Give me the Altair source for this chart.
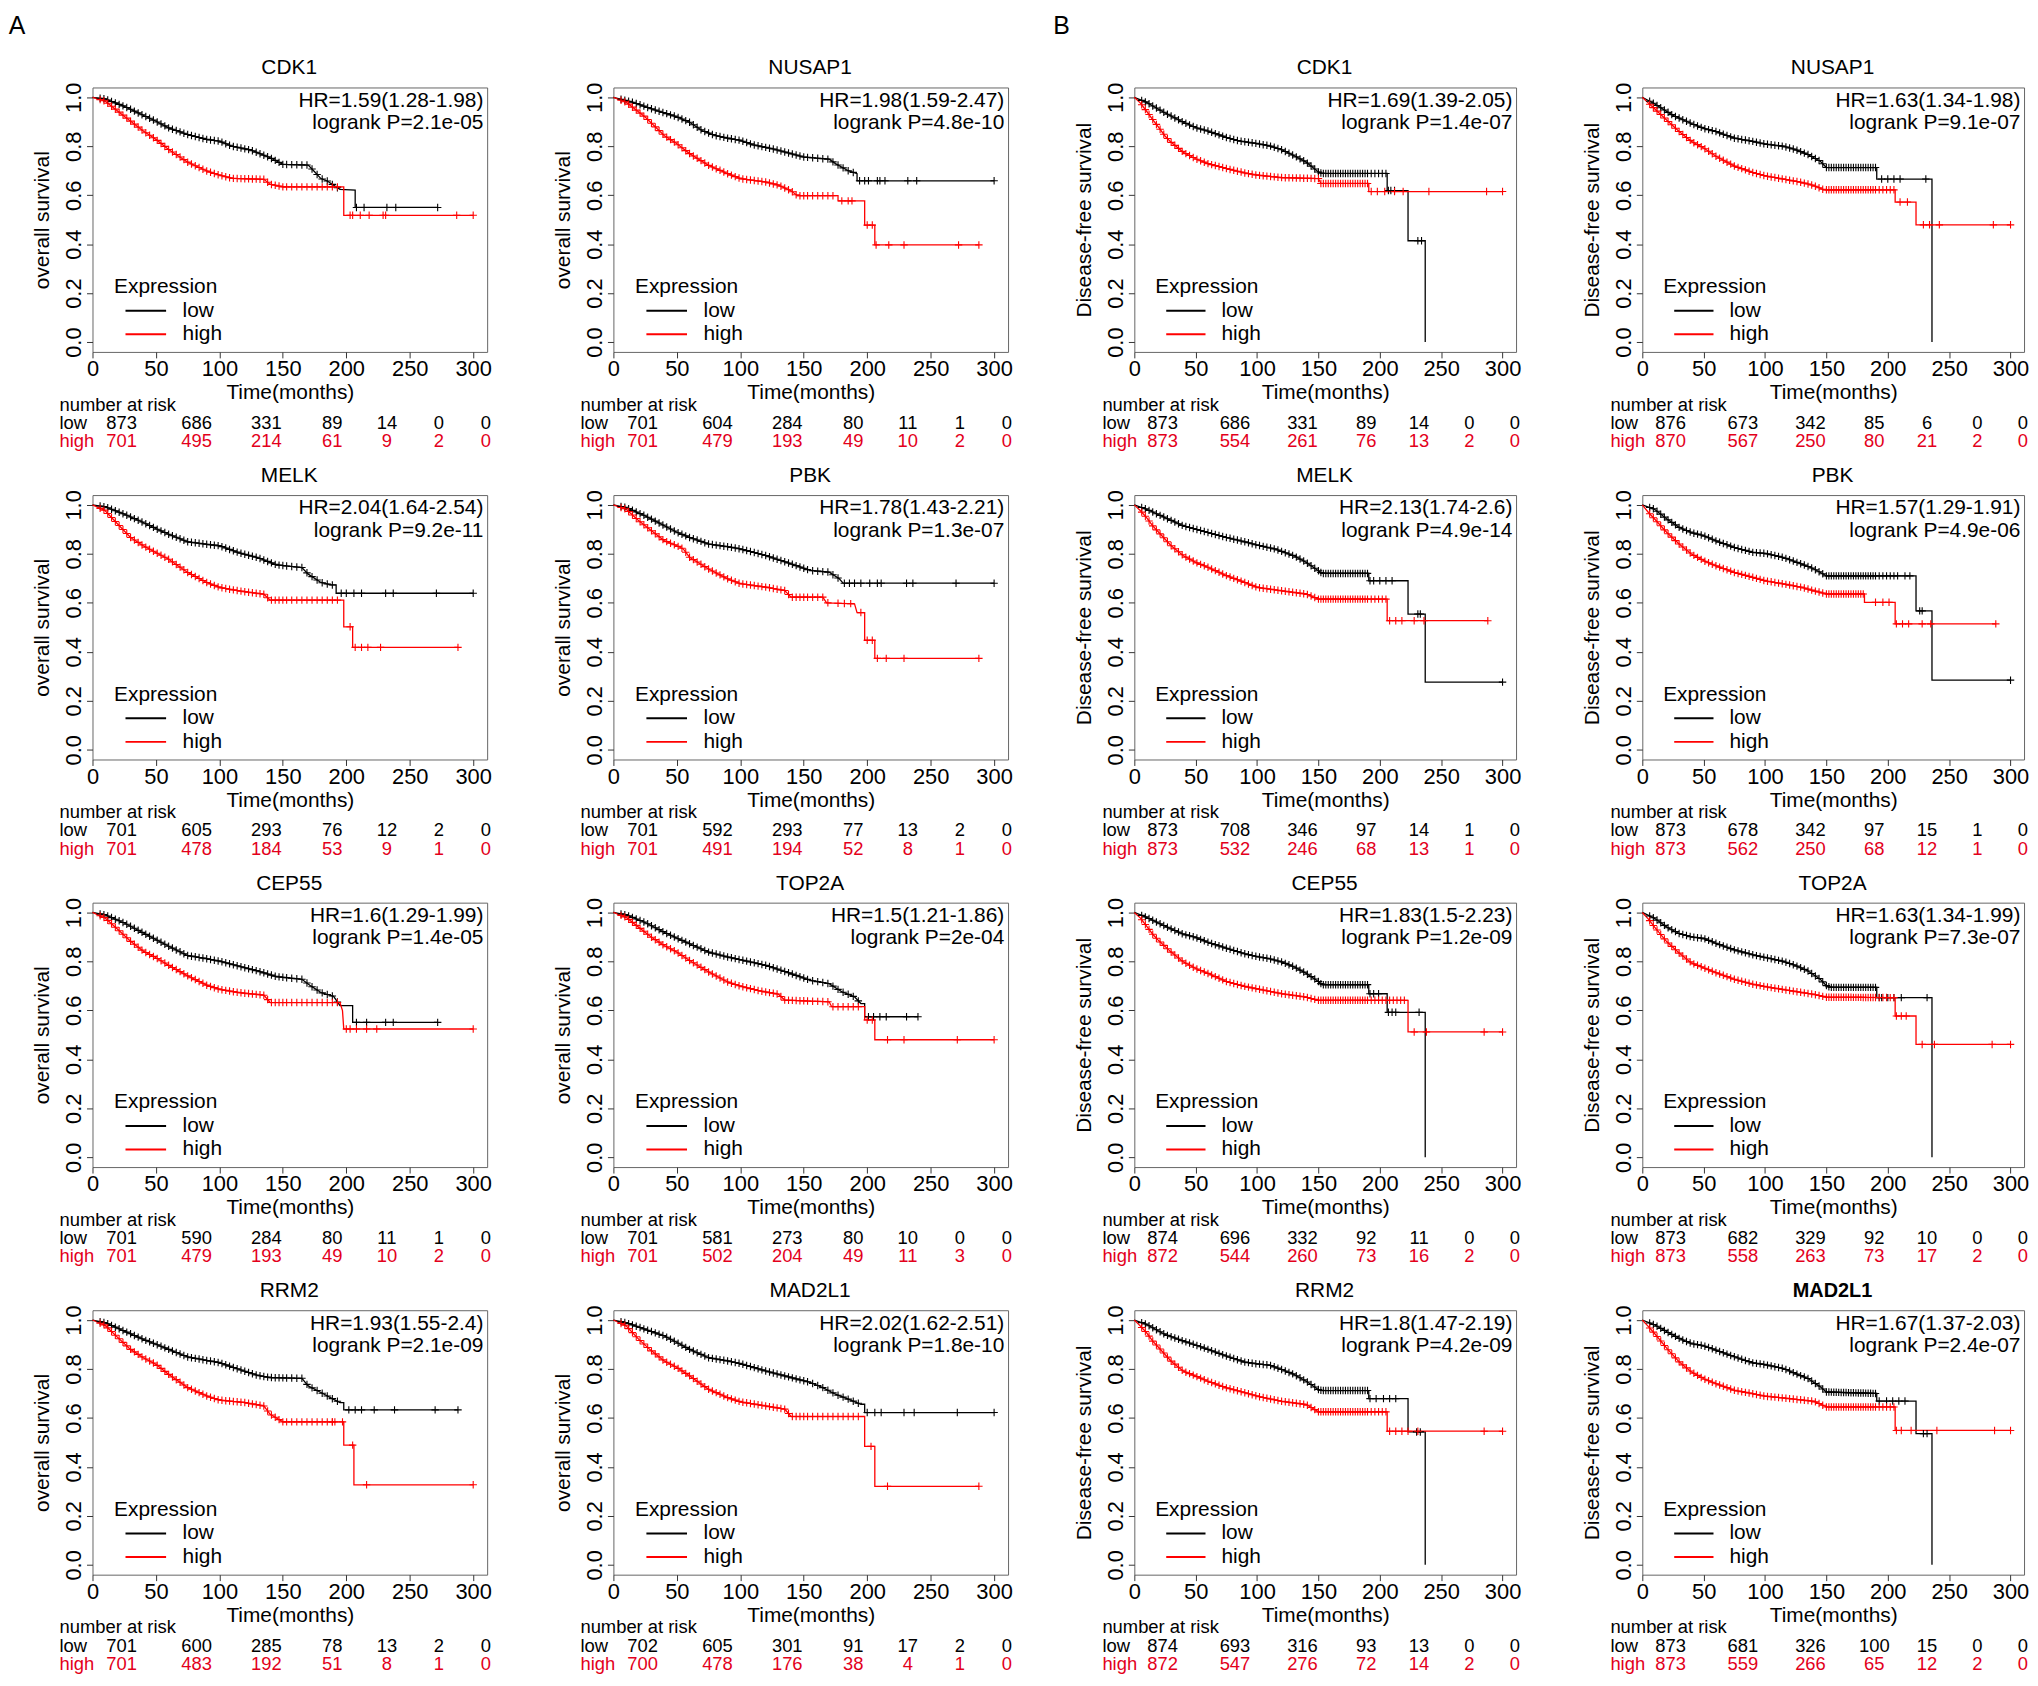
import altair as alt
import pandas as pd

# ------------------------------------------------------------------ data
GENES = ["CDK1", "NUSAP1", "MELK", "PBK", "CEP55", "TOP2A", "RRM2", "MAD2L1"]
RISK_TIMES = [0, 50, 100, 150, 200, 250, 300]

# ---- A: overall survival
OS_HR = {
    "CDK1": "HR=1.59(1.28-1.98)", "NUSAP1": "HR=1.98(1.59-2.47)",
    "MELK": "HR=2.04(1.64-2.54)", "PBK": "HR=1.78(1.43-2.21)",
    "CEP55": "HR=1.6(1.29-1.99)", "TOP2A": "HR=1.5(1.21-1.86)",
    "RRM2": "HR=1.93(1.55-2.4)", "MAD2L1": "HR=2.02(1.62-2.51)",
}
OS_P = {
    "CDK1": "logrank P=2.1e-05", "NUSAP1": "logrank P=4.8e-10",
    "MELK": "logrank P=9.2e-11", "PBK": "logrank P=1.3e-07",
    "CEP55": "logrank P=1.4e-05", "TOP2A": "logrank P=2e-04",
    "RRM2": "logrank P=2.1e-09", "MAD2L1": "logrank P=1.8e-10",
}
OS_RISK_LOW = {
    "CDK1": [873, 686, 331, 89, 14, 0, 0], "NUSAP1": [701, 604, 284, 80, 11, 1, 0],
    "MELK": [701, 605, 293, 76, 12, 2, 0], "PBK": [701, 592, 293, 77, 13, 2, 0],
    "CEP55": [701, 590, 284, 80, 11, 1, 0], "TOP2A": [701, 581, 273, 80, 10, 0, 0],
    "RRM2": [701, 600, 285, 78, 13, 2, 0], "MAD2L1": [702, 605, 301, 91, 17, 2, 0],
}
OS_RISK_HIGH = {
    "CDK1": [701, 495, 214, 61, 9, 2, 0], "NUSAP1": [701, 479, 193, 49, 10, 2, 0],
    "MELK": [701, 478, 184, 53, 9, 1, 0], "PBK": [701, 491, 194, 52, 8, 1, 0],
    "CEP55": [701, 479, 193, 49, 10, 2, 0], "TOP2A": [701, 502, 204, 49, 11, 3, 0],
    "RRM2": [701, 483, 192, 51, 8, 1, 0], "MAD2L1": [700, 478, 176, 38, 4, 1, 0],
}
OS_LOW = {
    "CDK1": [(0, 1), (10, 0.993), (25, 0.963), (50, 0.902), (60, 0.875), (75, 0.848), (90, 0.828),
             (100, 0.821), (110, 0.80), (125, 0.784), (140, 0.753), (150, 0.726), (170, 0.723),
             (175, 0.696), (180, 0.668), (185, 0.658), (195, 0.624), (207, 0.621), (207, 0.55), (272, 0.55)],
    "NUSAP1": [(0, 1), (15, 0.98), (30, 0.953), (50, 0.92), (60, 0.898), (70, 0.864), (80, 0.844),
               (90, 0.833), (100, 0.824), (110, 0.806), (125, 0.79), (140, 0.77), (150, 0.756),
               (170, 0.747), (175, 0.729), (185, 0.70), (192, 0.688), (192, 0.659), (300, 0.659)],
    "MELK": [(0, 1), (10, 0.992), (25, 0.962), (40, 0.928), (50, 0.903), (60, 0.88), (75, 0.849),
             (90, 0.839), (100, 0.833), (115, 0.805), (130, 0.785), (145, 0.755), (165, 0.744),
             (170, 0.717), (180, 0.683), (188, 0.673), (192, 0.673), (192, 0.639), (300, 0.639)],
    "PBK": [(0, 1), (10, 0.989), (25, 0.955), (40, 0.915), (50, 0.888), (60, 0.867), (75, 0.84),
            (90, 0.829), (100, 0.82), (120, 0.793), (140, 0.759), (155, 0.732), (170, 0.725),
            (178, 0.698), (181, 0.68), (300, 0.68)],
    "CEP55": [(0, 1), (10, 0.99), (25, 0.957), (40, 0.916), (50, 0.889), (60, 0.862), (75, 0.824),
              (90, 0.811), (100, 0.801), (115, 0.781), (130, 0.761), (145, 0.738), (165, 0.727),
              (172, 0.70), (180, 0.673), (190, 0.657), (195, 0.619), (205, 0.619), (205, 0.551), (272, 0.551)],
    "TOP2A": [(0, 1), (10, 0.99), (25, 0.959), (40, 0.919), (50, 0.895), (60, 0.872), (75, 0.838),
              (90, 0.818), (100, 0.807), (120, 0.784), (140, 0.75), (155, 0.723), (170, 0.709),
              (180, 0.676), (190, 0.655), (195, 0.628), (198, 0.628), (198, 0.574), (240, 0.574)],
    "RRM2": [(0, 1), (10, 0.989), (25, 0.955), (40, 0.921), (50, 0.901), (60, 0.88), (75, 0.849),
             (90, 0.835), (100, 0.826), (115, 0.799), (130, 0.774), (140, 0.765), (165, 0.762),
             (170, 0.731), (180, 0.704), (190, 0.676), (195, 0.663), (198, 0.663), (198, 0.633), (288, 0.633)],
    "MAD2L1": [(0, 1), (10, 0.989), (25, 0.962), (40, 0.935), (50, 0.908), (60, 0.88), (75, 0.846),
               (90, 0.833), (100, 0.822), (120, 0.792), (140, 0.765), (155, 0.745), (165, 0.724),
               (175, 0.697), (185, 0.677), (195, 0.656), (198, 0.656), (198, 0.622), (300, 0.622)],
}
OS_HIGH = {
    "CDK1": [(0, 1), (10, 0.984), (25, 0.923), (40, 0.862), (50, 0.828), (60, 0.787), (75, 0.735),
             (90, 0.699), (100, 0.682), (110, 0.669), (135, 0.665), (140, 0.645), (150, 0.634),
             (198, 0.634), (198, 0.518), (300, 0.518)],
    "NUSAP1": [(0, 1), (10, 0.98), (25, 0.919), (40, 0.844), (50, 0.81), (60, 0.77), (75, 0.722),
               (90, 0.688), (100, 0.668), (120, 0.654), (130, 0.641), (140, 0.618), (145, 0.598),
               (177, 0.598), (177, 0.577), (198, 0.577), (198, 0.478), (206, 0.478), (206, 0.397), (288, 0.397)],
    "MELK": [(0, 1), (10, 0.976), (20, 0.921), (30, 0.867), (40, 0.833), (50, 0.805), (60, 0.778),
             (75, 0.724), (90, 0.683), (100, 0.663), (115, 0.649), (135, 0.635), (140, 0.611),
             (198, 0.611), (198, 0.502), (205, 0.502), (205, 0.418), (288, 0.418)],
    "PBK": [(0, 1), (10, 0.982), (20, 0.935), (30, 0.894), (40, 0.854), (50, 0.833), (55, 0.82),
            (60, 0.786), (75, 0.738), (90, 0.698), (100, 0.678), (120, 0.664), (135, 0.65), (140, 0.623),
            (165, 0.623), (168, 0.60), (190, 0.596), (192, 0.56), (198, 0.56), (198, 0.447), (206, 0.447),
            (206, 0.373), (288, 0.373)],
    "CEP55": [(0, 1), (10, 0.977), (20, 0.93), (30, 0.882), (40, 0.842), (50, 0.815), (60, 0.784),
              (75, 0.741), (90, 0.703), (100, 0.686), (115, 0.673), (135, 0.662), (140, 0.632),
              (195, 0.632), (197, 0.599), (198, 0.524), (300, 0.524)],
    "TOP2A": [(0, 1), (10, 0.98), (20, 0.939), (30, 0.899), (40, 0.865), (50, 0.838), (60, 0.804),
              (75, 0.757), (90, 0.716), (100, 0.699), (115, 0.68), (130, 0.666), (135, 0.642),
              (170, 0.635), (172, 0.615), (198, 0.615), (198, 0.561), (206, 0.561), (206, 0.48), (300, 0.48)],
    "RRM2": [(0, 1), (10, 0.978), (20, 0.928), (30, 0.88), (40, 0.846), (50, 0.819), (60, 0.778),
             (75, 0.724), (90, 0.69), (100, 0.673), (120, 0.663), (135, 0.649), (140, 0.615), (150, 0.584),
             (198, 0.584), (198, 0.489), (206, 0.489), (206, 0.327), (300, 0.327)],
    "MAD2L1": [(0, 1), (10, 0.976), (20, 0.921), (30, 0.874), (40, 0.833), (50, 0.806), (60, 0.772),
               (75, 0.717), (90, 0.683), (100, 0.666), (120, 0.649), (135, 0.636), (140, 0.606),
               (198, 0.606), (198, 0.484), (206, 0.484), (206, 0.321), (288, 0.321)],
}
OS_CENS_LOW = {
    "CDK1": [208, 214, 232, 239, 272], "NUSAP1": [194, 198, 201, 208, 210, 214, 232, 239, 300],
    "MELK": [196, 200, 206, 212, 231, 237, 271, 300], "PBK": [182, 186, 190, 195, 202, 208, 211, 231, 236, 270, 300],
    "CEP55": [208, 216, 231, 237, 272], "TOP2A": [201, 205, 210, 215, 231, 240],
    "RRM2": [202, 207, 212, 222, 238, 270, 288], "MAD2L1": [200, 206, 211, 229, 237, 271, 300],
}
OS_CENS_HIGH = {
    "CDK1": [203, 205, 211, 218, 229, 231, 287, 300], "NUSAP1": [180, 185, 188, 200, 204, 207, 217, 229, 272, 288],
    "MELK": [203, 207, 212, 217, 227, 288], "PBK": [177, 182, 187, 195, 200, 204, 208, 215, 229, 288],
    "CEP55": [200, 203, 208, 216, 224, 300], "TOP2A": [200, 204, 216, 229, 271, 300],
    "RRM2": [189, 191, 197, 205, 216, 300], "MAD2L1": [203, 216, 288],
}
OS_DENSE_END_LOW = {"CDK1": 205, "NUSAP1": 190, "MELK": 190, "PBK": 178,
                    "CEP55": 200, "TOP2A": 195, "RRM2": 195, "MAD2L1": 195}
OS_DENSE_END_HIGH = {"CDK1": 196, "NUSAP1": 175, "MELK": 195, "PBK": 170,
                     "CEP55": 193, "TOP2A": 196, "RRM2": 190, "MAD2L1": 195}
OS_DENSE = [6, 9, 12, 15, 18, 21, 24, 27, 30, 33, 36, 39, 42, 45, 48, 51, 54, 57, 60, 63, 66, 69,
            72, 75, 78, 81, 84, 87, 90, 93, 96, 99, 102, 105, 108, 111, 114, 117, 120, 123, 126,
            129, 132, 135, 138, 141, 144, 147, 150, 153, 157, 161, 165, 169, 173, 177, 181, 185,
            189, 193]

# ---- B: disease-free survival
DFS_HR = {
    "CDK1": "HR=1.69(1.39-2.05)", "NUSAP1": "HR=1.63(1.34-1.98)",
    "MELK": "HR=2.13(1.74-2.6)", "PBK": "HR=1.57(1.29-1.91)",
    "CEP55": "HR=1.83(1.5-2.23)", "TOP2A": "HR=1.63(1.34-1.99)",
    "RRM2": "HR=1.8(1.47-2.19)", "MAD2L1": "HR=1.67(1.37-2.03)",
}
DFS_P = {
    "CDK1": "logrank P=1.4e-07", "NUSAP1": "logrank P=9.1e-07",
    "MELK": "logrank P=4.9e-14", "PBK": "logrank P=4.9e-06",
    "CEP55": "logrank P=1.2e-09", "TOP2A": "logrank P=7.3e-07",
    "RRM2": "logrank P=4.2e-09", "MAD2L1": "logrank P=2.4e-07",
}
DFS_RISK_LOW = {
    "CDK1": [873, 686, 331, 89, 14, 0, 0], "NUSAP1": [876, 673, 342, 85, 6, 0, 0],
    "MELK": [873, 708, 346, 97, 14, 1, 0], "PBK": [873, 678, 342, 97, 15, 1, 0],
    "CEP55": [874, 696, 332, 92, 11, 0, 0], "TOP2A": [873, 682, 329, 92, 10, 0, 0],
    "RRM2": [874, 693, 316, 93, 13, 0, 0], "MAD2L1": [873, 681, 326, 100, 15, 0, 0],
}
DFS_RISK_HIGH = {
    "CDK1": [873, 554, 261, 76, 13, 2, 0], "NUSAP1": [870, 567, 250, 80, 21, 2, 0],
    "MELK": [873, 532, 246, 68, 13, 1, 0], "PBK": [873, 562, 250, 68, 12, 1, 0],
    "CEP55": [872, 544, 260, 73, 16, 2, 0], "TOP2A": [873, 558, 263, 73, 17, 2, 0],
    "RRM2": [872, 547, 276, 72, 14, 2, 0], "MAD2L1": [873, 559, 266, 65, 12, 2, 0],
}
DFS_LOW = {
    "CDK1": [(0, 1), (10, 0.979), (25, 0.936), (40, 0.898), (50, 0.876), (60, 0.862), (75, 0.836),
             (85, 0.822), (100, 0.811), (110, 0.802), (120, 0.786), (130, 0.762), (140, 0.735),
             (150, 0.695), (153, 0.689), (206, 0.689), (206, 0.619), (223, 0.619), (223, 0.414),
             (237, 0.414), (237, 0.0)],
    "NUSAP1": [(0, 1), (10, 0.973), (25, 0.926), (40, 0.893), (50, 0.873), (60, 0.86), (75, 0.833),
               (90, 0.82), (100, 0.809), (115, 0.80), (125, 0.786), (135, 0.766), (145, 0.739),
               (150, 0.713), (191, 0.713), (191, 0.666), (236, 0.666), (236, 0.0)],
    "MELK": [(0, 1), (10, 0.982), (25, 0.948), (40, 0.914), (50, 0.901), (60, 0.887), (75, 0.867),
             (90, 0.849), (100, 0.836), (115, 0.819), (130, 0.792), (140, 0.765), (150, 0.731),
             (153, 0.72), (191, 0.72), (191, 0.69), (223, 0.69), (223, 0.554), (237, 0.554),
             (237, 0.276), (300, 0.276)],
    "PBK": [(0, 1), (10, 0.982), (20, 0.942), (30, 0.908), (40, 0.887), (50, 0.874), (60, 0.853),
            (75, 0.826), (90, 0.806), (100, 0.802), (115, 0.785), (130, 0.758), (140, 0.738),
            (150, 0.71), (223, 0.71), (223, 0.567), (236, 0.567), (236, 0.284), (300, 0.284)],
    "CEP55": [(0, 1), (10, 0.98), (25, 0.944), (40, 0.911), (50, 0.898), (60, 0.878), (75, 0.854),
              (90, 0.831), (100, 0.82), (110, 0.811), (120, 0.798), (130, 0.778), (140, 0.751),
              (150, 0.718), (153, 0.705), (191, 0.705), (191, 0.668), (206, 0.668), (206, 0.592),
              (237, 0.592), (237, 0.0)],
    "TOP2A": [(0, 1), (10, 0.976), (20, 0.94), (30, 0.914), (40, 0.90), (50, 0.894), (60, 0.874),
              (75, 0.847), (90, 0.827), (100, 0.816), (115, 0.80), (125, 0.783), (135, 0.761),
              (145, 0.727), (150, 0.701), (153, 0.694), (191, 0.694), (191, 0.652), (236, 0.652),
              (236, 0.0)],
    "RRM2": [(0, 1), (10, 0.982), (25, 0.941), (40, 0.914), (50, 0.898), (60, 0.88), (75, 0.853),
             (90, 0.828), (100, 0.821), (110, 0.816), (120, 0.798), (130, 0.778), (140, 0.75),
             (150, 0.716), (153, 0.712), (191, 0.712), (191, 0.679), (223, 0.679), (223, 0.543),
             (237, 0.543), (237, 0.0)],
    "MAD2L1": [(0, 1), (10, 0.98), (20, 0.952), (30, 0.925), (40, 0.904), (50, 0.895), (60, 0.877),
               (75, 0.85), (90, 0.825), (100, 0.818), (115, 0.802), (125, 0.781), (135, 0.761),
               (145, 0.727), (150, 0.706), (191, 0.70), (191, 0.669), (223, 0.669), (223, 0.536),
               (236, 0.536), (236, 0.0)],
}
DFS_HIGH = {
    "CDK1": [(0, 1), (5, 0.976), (10, 0.943), (15, 0.909), (20, 0.876), (25, 0.842), (30, 0.816),
             (40, 0.775), (50, 0.749), (60, 0.729), (75, 0.709), (90, 0.691), (100, 0.682),
             (120, 0.672), (150, 0.668), (152, 0.648), (191, 0.648), (191, 0.615), (300, 0.615)],
    "NUSAP1": [(0, 1), (5, 0.976), (10, 0.953), (20, 0.906), (30, 0.86), (40, 0.82), (50, 0.793),
               (60, 0.759), (75, 0.719), (90, 0.693), (100, 0.679), (115, 0.666), (130, 0.652),
               (140, 0.639), (148, 0.622), (206, 0.622), (206, 0.572), (223, 0.572), (223, 0.479), (300, 0.479)],
    "MELK": [(0, 1), (5, 0.976), (10, 0.948), (15, 0.914), (20, 0.887), (30, 0.833), (40, 0.792),
             (50, 0.765), (60, 0.745), (75, 0.711), (90, 0.683), (100, 0.663), (120, 0.649),
             (140, 0.636), (150, 0.615), (206, 0.615), (206, 0.527), (288, 0.527)],
    "PBK": [(0, 1), (5, 0.969), (10, 0.942), (20, 0.887), (30, 0.84), (40, 0.799), (50, 0.772),
            (60, 0.751), (75, 0.724), (90, 0.704), (100, 0.69), (115, 0.677), (130, 0.663),
            (140, 0.649), (150, 0.636), (181, 0.636), (181, 0.602), (206, 0.602), (206, 0.514), (288, 0.514)],
    "CEP55": [(0, 1), (5, 0.977), (10, 0.944), (15, 0.911), (20, 0.884), (30, 0.838), (40, 0.798),
              (50, 0.771), (60, 0.751), (75, 0.718), (90, 0.698), (100, 0.688), (120, 0.668),
              (140, 0.654), (150, 0.641), (223, 0.641), (223, 0.512), (300, 0.512)],
    "TOP2A": [(0, 1), (5, 0.973), (10, 0.94), (20, 0.88), (30, 0.834), (40, 0.794), (50, 0.774),
              (60, 0.754), (75, 0.727), (90, 0.707), (100, 0.697), (120, 0.681), (140, 0.665),
              (150, 0.654), (206, 0.652), (206, 0.577), (223, 0.577), (223, 0.461), (300, 0.461)],
    "RRM2": [(0, 1), (5, 0.975), (10, 0.948), (15, 0.914), (20, 0.887), (30, 0.832), (40, 0.791),
             (50, 0.771), (60, 0.75), (75, 0.723), (90, 0.703), (100, 0.689), (120, 0.668),
             (140, 0.655), (150, 0.625), (206, 0.625), (206, 0.546), (300, 0.546)],
    "MAD2L1": [(0, 1), (5, 0.973), (10, 0.945), (20, 0.884), (30, 0.829), (40, 0.788), (50, 0.76),
               (60, 0.74), (75, 0.713), (90, 0.699), (100, 0.689), (120, 0.679), (140, 0.668),
               (150, 0.645), (206, 0.645), (206, 0.549), (300, 0.549)],
}
DFS_CENS_LOW = {
    "CDK1": [207, 209, 212, 231, 234], "NUSAP1": [195, 200, 205, 210, 231],
    "MELK": [192, 195, 200, 205, 210, 231, 233, 300], "PBK": [214, 218, 226, 228, 300],
    "CEP55": [192, 195, 199, 207, 210, 213, 232], "TOP2A": [193, 195, 200, 205, 211, 232],
    "RRM2": [192, 197, 203, 208, 213, 230, 233], "MAD2L1": [193, 199, 204, 209, 214, 229, 232],
}
DFS_CENS_HIGH = {
    "CDK1": [193, 198, 204, 212, 219, 240, 287, 300], "NUSAP1": [210, 216, 229, 234, 242, 286, 300],
    "MELK": [208, 213, 218, 228, 236, 288], "PBK": [190, 196, 201, 207, 212, 217, 228, 235, 288],
    "CEP55": [228, 238, 285, 300], "TOP2A": [207, 211, 215, 228, 238, 285, 300],
    "RRM2": [208, 213, 218, 223, 231, 285, 300], "MAD2L1": [207, 211, 219, 240, 287, 300],
}
DFS_DENSE_END_LOW = {"CDK1": 205, "NUSAP1": 190, "MELK": 190, "PBK": 210,
                     "CEP55": 190, "TOP2A": 190, "RRM2": 190, "MAD2L1": 190}
DFS_DENSE_END_HIGH = {"CDK1": 190, "NUSAP1": 205, "MELK": 205, "PBK": 180,
                      "CEP55": 222, "TOP2A": 205, "RRM2": 205, "MAD2L1": 205}
DFS_DENSE = [6, 9, 12, 15, 18, 21, 24, 27, 30, 33, 36, 39, 42, 45, 48, 51, 54, 57, 60, 63, 66, 69,
             72, 75, 78, 81, 84, 87, 90, 93, 96, 99, 102, 105, 108, 111, 114, 117, 120, 123, 126,
             129, 132, 135, 138, 141, 144, 147, 150, 152, 154, 156, 158, 160, 162, 164, 166, 168,
             170, 172, 174, 176, 178, 180, 182, 184, 186, 188, 190, 193, 196, 199, 202, 205, 208,
             211, 214, 217, 220]

# ------------------------------------------------------------------ layout / style constants
FONT = "Liberation Sans"
BLACK = "#000000"
RED = "#ff0000"
TABLE_RED = "#e3001b"
RISK_COL_T = [23, 82, 137, 189, 232, 273, 310]   # column positions (months) of the risk table
Y_HEADER, Y_LOW, Y_HIGH = -0.255, -0.33, -0.405
X_LABEL_LEFT = -26
TITLE_T, TITLE_S = 155, 1.118
LETTER_T, LETTER_S = -66, 1.29


def on_line(pts, t):
    for (t0, s0), (t1, s1) in zip(pts, pts[1:]):
        if t1 > t0 and t0 <= t <= t1:
            return s0 + (s1 - s0) * (t - t0) / (t1 - t0)
    return pts[-1][1]


def make_panel(gene, side, letter=None):
    if side == "A":
        low, high = OS_LOW[gene], OS_HIGH[gene]
        cl = [t for t in OS_DENSE if t <= OS_DENSE_END_LOW[gene]] + OS_CENS_LOW[gene]
        ch = [t for t in OS_DENSE if t <= OS_DENSE_END_HIGH[gene]] + OS_CENS_HIGH[gene]
        hr, pv = OS_HR[gene], OS_P[gene]
        rl, rh = OS_RISK_LOW[gene], OS_RISK_HIGH[gene]
        ylab = "overall survival"
        w, h = 397, 266
    else:
        low, high = DFS_LOW[gene], DFS_HIGH[gene]
        cl = [t for t in DFS_DENSE if t <= DFS_DENSE_END_LOW[gene]] + DFS_CENS_LOW[gene]
        ch = [t for t in DFS_DENSE if t <= DFS_DENSE_END_HIGH[gene]] + DFS_CENS_HIGH[gene]
        hr, pv = DFS_HR[gene], DFS_P[gene]
        rl, rh = DFS_RISK_LOW[gene], DFS_RISK_HIGH[gene]
        ylab = "Disease-free survival"
        w, h = 384, 266

    curve = pd.DataFrame(
        [{"g": "low", "t": t, "s": s, "k": i} for i, (t, s) in enumerate(low)]
        + [{"g": "high", "t": t, "s": s, "k": i} for i, (t, s) in enumerate(high)]
    )
    cens = pd.DataFrame(
        [{"g": "low", "t": t, "s": on_line(low, t)} for t in cl]
        + [{"g": "high", "t": t, "s": on_line(high, t)} for t in ch]
    )

    xscale = alt.Scale(domain=[0, 311], nice=False, zero=False)
    yscale = alt.Scale(domain=[-0.04, 1.04], nice=False, zero=False)
    xax = alt.Axis(values=RISK_TIMES, title="Time(months)", grid=False, domain=False,
                   tickSize=6, tickColor="#333333", labelFontSize=22, labelPadding=1,
                   labelFlush=False, labelColor="black", titleFontSize=21,
                   titleFontWeight="normal", titlePadding=2, titleColor="black")
    yax = alt.Axis(values=[0, 0.2, 0.4, 0.6, 0.8, 1.0], format=".1f", title=ylab, grid=False,
                   domain=False, tickSize=6, tickColor="#333333", labelAngle=270,
                   labelAlign="center", labelBaseline="alphabetic", labelPadding=6,
                   labelFontSize=22, labelColor="black", titleFontSize=21,
                   titleFontWeight="normal", titlePadding=10, titleColor="black")
    cscale = alt.Scale(domain=["low", "high"], range=[BLACK, RED])

    X = alt.X("t:Q", scale=xscale, axis=xax)
    Y = alt.Y("s:Q", scale=yscale, axis=yax)

    lines = alt.Chart(curve).mark_line(strokeWidth=1.3).encode(
        x=X, y=Y, color=alt.Color("g:N", scale=cscale, legend=None), order="k:Q")
    marks = alt.Chart(cens).mark_point(
        shape="M-1,0L1,0M0,-1L0,1", filled=False, size=56, strokeWidth=1.1, opacity=1
    ).encode(x="t:Q", y="s:Q", color=alt.Color("g:N", scale=cscale, legend=None))

    hr_df = pd.DataFrame([{"t": 308, "s": 0.985, "label": hr}, {"t": 308, "s": 0.895, "label": pv}])
    hr_txt = alt.Chart(hr_df).mark_text(align="right", baseline="middle", fontSize=21,
                                        font=FONT, color="black").encode(
        x="t:Q", y="s:Q", text="label:N")

    bold = side == "B" and gene == "MAD2L1"
    ttl_df = pd.DataFrame([{"t": TITLE_T, "s": TITLE_S, "label": gene}])
    ttl_txt = alt.Chart(ttl_df).mark_text(align="center", baseline="middle",
                                          fontSize=20 if bold else 21,
                                          fontWeight="bold" if bold else "normal",
                                          font=FONT, color="black").encode(
        x="t:Q", y="s:Q", text="label:N")

    leg_t = pd.DataFrame([{"t": 17, "s": 0.225, "label": "Expression"},
                          {"t": 71, "s": 0.128, "label": "low"},
                          {"t": 71, "s": 0.032, "label": "high"}])
    leg_txt = alt.Chart(leg_t).mark_text(align="left", baseline="middle", fontSize=21,
                                         font=FONT, color="black").encode(
        x="t:Q", y="s:Q", text="label:N")
    leg_l = pd.DataFrame([{"t": 26, "t2": 58, "s": 0.128, "g": "low"},
                          {"t": 26, "t2": 58, "s": 0.032, "g": "high"}])
    leg_lines = alt.Chart(leg_l).mark_rule(strokeWidth=2).encode(
        x="t:Q", x2="t2:Q", y="s:Q", color=alt.Color("g:N", scale=cscale, legend=None))

    rows = [{"t": X_LABEL_LEFT, "s": Y_HEADER, "label": "number at risk", "c": BLACK},
            {"t": X_LABEL_LEFT, "s": Y_LOW, "label": "low", "c": BLACK},
            {"t": X_LABEL_LEFT, "s": Y_HIGH, "label": "high", "c": TABLE_RED}]
    nums = []
    for i, tt in enumerate(RISK_COL_T):
        nums.append({"t": tt, "s": Y_LOW, "label": str(rl[i]), "c": BLACK})
        nums.append({"t": tt, "s": Y_HIGH, "label": str(rh[i]), "c": TABLE_RED})
    row_txt = alt.Chart(pd.DataFrame(rows)).mark_text(
        align="left", baseline="middle", fontSize=18.5, font=FONT).encode(
        x="t:Q", y="s:Q", text="label:N", color=alt.Color("c:N", scale=None))
    num_txt = alt.Chart(pd.DataFrame(nums)).mark_text(
        align="center", baseline="middle", fontSize=18.5, font=FONT).encode(
        x="t:Q", y="s:Q", text="label:N", color=alt.Color("c:N", scale=None))

    layers = [lines, marks, hr_txt, ttl_txt, leg_lines, leg_txt, row_txt, num_txt]
    if letter is not None:
        let_df = pd.DataFrame([{"t": LETTER_T, "s": LETTER_S, "label": letter}])
        layers.append(alt.Chart(let_df).mark_text(align="left", baseline="middle", fontSize=25,
                                                  font=FONT, color="black").encode(
            x="t:Q", y="s:Q", text="label:N"))

    return alt.layer(*layers).properties(width=w, height=h)


panels = []
for r in range(4):
    g1, g2 = GENES[2 * r], GENES[2 * r + 1]
    panels.append(make_panel(g1, "A", letter="A" if r == 0 else None))
    panels.append(make_panel(g2, "A"))
    panels.append(make_panel(g1, "B", letter="B" if r == 0 else None))
    panels.append(make_panel(g2, "B"))

chart = alt.concat(
    *panels, columns=4, spacing={"row": 144, "column": 127}, bounds="flush", align="each"
).properties(
    padding={"left": 0, "top": 0, "right": 0, "bottom": 0}
).configure(font=FONT).configure_view(
    stroke="#666666", strokeWidth=1
).configure_axis(labelFont=FONT, titleFont=FONT)

chart.save("out.html", embed_options={"renderer": "svg", "actions": False})
